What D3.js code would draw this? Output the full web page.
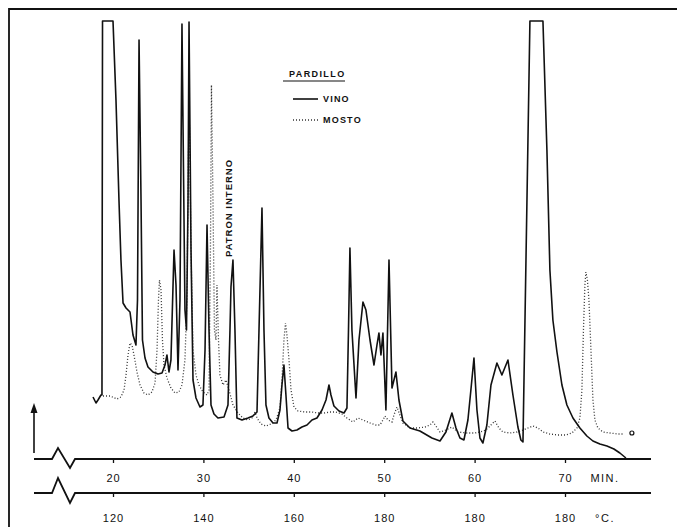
<!DOCTYPE html>
<html>
<head>
<meta charset="utf-8">
<script src="https://cdn.jsdelivr.net/npm/d3@7"></script>
<style>
  body { margin: 0; background: #fff; }
  text { font-family: "Liberation Sans", Arial, sans-serif; fill: #111; }
</style>
</head>
<body>
<script>
// chromatogram, Pardillo: vino vs mosto
var width = 677;
var height = 527;

// tick labels
var minuteTicks = [20, 30, 40, 50, 60, 70];
var tempLabels = ['120', '140', '160', '180', '180', '180'];

// VINO (solid) - time in min, response in chart units (106 = pen at top)
var vinoTime = [17.79, 18.12, 18.34, 18.67, 18.78, 18.84, 20.0, 20.33, 20.66, 20.88, 21.11, 21.44, 21.88, 22.21, 22.54, 22.71, 22.88, 23.10, 23.26, 23.54,
  23.87, 24.42, 24.98, 25.42, 25.75, 25.97, 26.19, 26.41, 26.75, 26.97, 27.19, 27.41, 27.63, 27.96, 28.13, 28.30, 28.41, 28.63, 28.85, 29.18,
  29.62, 29.95, 30.18, 30.40, 30.62, 30.84, 31.17, 31.61, 32.28, 32.72, 32.94, 33.05, 33.27, 33.49, 33.71, 34.27, 34.93, 35.48, 35.93, 36.15,
  36.48, 36.70, 36.92, 37.25, 37.70, 38.14, 38.47, 38.69, 38.91, 39.13, 39.36, 39.80, 40.35, 40.90, 41.46, 42.01, 42.56, 43.12, 43.56, 43.89,
  44.11, 44.44, 45.00, 45.55, 45.88, 46.05, 46.21, 46.43, 46.88, 47.21, 47.65, 47.98, 48.43, 48.87, 49.20, 49.42, 49.64, 49.86, 50.19, 50.53,
  50.86, 51.30, 51.63, 52.07, 52.85, 53.95, 55.28, 56.17, 56.83, 57.49, 57.94, 58.38, 58.82, 59.26, 59.59, 59.93, 60.26, 60.59, 60.92, 61.36,
  61.81, 62.47, 63.02, 63.69, 64.24, 64.79, 65.12, 65.35, 66.12, 67.56, 68.00, 68.33, 68.66, 69.11, 69.66, 70.21, 70.88, 71.65, 72.42, 73.09,
  73.86, 74.64, 75.41, 76.07, 76.74];
var vinoResp = [12, 10.5, 11.25, 12.5, 12.5, 106, 106, 86.25, 61.25, 46.25, 35.5, 34.25, 33.25, 27.5, 25, 36.25, 101.25, 61.25, 26.25, 21.75,
  19.5, 18.25, 17.75, 18, 20, 22.5, 18.25, 21.25, 48.75, 40, 18.75, 36.25, 105.25, 33.75, 28.75, 61.25, 105.75, 48.75, 16.25, 11.75,
  9.5, 10, 23.75, 55, 28.75, 10, 7.75, 6.75, 7, 10, 28.75, 39.5, 46.25, 28.75, 6.75, 6.25, 6.75, 7.25, 8.25, 28.75,
  59.25, 28.75, 10, 6.75, 5.5, 5.5, 8.75, 15, 20, 12.5, 4.25, 3.5, 3.75, 4.5, 5, 6.25, 6.75, 8.75, 11.25, 15,
  12.5, 9.75, 8.5, 8, 9.25, 28.75, 49.25, 28.75, 11.75, 26.25, 35.75, 33.75, 26.25, 20, 25, 28, 22.5, 28, 8.75, 46.25,
  14.25, 18.25, 11.25, 6, 4.25, 3.5, 1.75, 1, 3.25, 8, 4.25, 1.75, 1.25, 6.25, 13.75, 21.75, 8.75, 1.75, 0.5, 5,
  15, 20.5, 17.5, 21.25, 12.5, 4.5, 1.25, 0.75, 106, 106, 73.75, 43.75, 31.25, 23.25, 15, 10, 6.75, 4.25, 2.25, 1,
  0.25, -0.25, -1, -2, -3.25];

// MOSTO (dotted)
var mostoTime = [18.89, 19.67, 20.44, 20.88, 21.22, 21.44, 21.66, 21.88, 22.10, 22.32, 22.65, 22.99, 23.43, 23.87, 24.31, 24.65, 24.87, 25.03, 25.14, 25.31,
  25.47, 25.64, 25.97, 26.41, 26.86, 27.30, 27.63, 27.96, 28.18, 28.35, 28.46, 28.63, 28.85, 29.18, 29.51, 29.95, 30.40, 30.62, 30.78, 30.89,
  31.06, 31.22, 31.39, 31.50, 31.67, 31.83, 32.17, 32.50, 32.83, 33.27, 33.83, 34.38, 34.93, 35.37, 35.71, 35.93, 36.37, 36.92, 37.47, 38.03,
  38.47, 38.69, 38.91, 39.08, 39.24, 39.47, 39.69, 40.02, 40.46, 41.24, 42.01, 42.67, 43.34, 44.00, 44.66, 45.33, 45.88, 46.54, 47.10, 47.65,
  48.42, 49.09, 49.53, 49.86, 50.08, 50.42, 50.86, 51.08, 51.41, 51.74, 52.07, 52.85, 53.73, 54.51, 55.06, 55.39, 55.72, 56.17, 56.83, 57.49,
  58.16, 59.15, 60.04, 60.59, 61.25, 61.81, 62.25, 62.69, 63.13, 63.91, 64.68, 65.35, 65.90, 66.45, 67.01, 67.56, 68.33, 69.22, 70.10, 70.77,
  71.32, 71.65, 71.87, 72.04, 72.20, 72.31, 72.48, 72.65, 72.87, 73.09, 73.31, 73.64, 74.19, 74.97, 75.85, 76.51];
var mostoResp = [12.25, 12.25, 11.5, 12, 13.75, 17.5, 22.5, 25.5, 25, 22.5, 18.25, 15, 13, 12.5, 13.25, 15.5, 23.75, 36.25, 41.25, 38.75,
  26.25, 20, 16.75, 14.25, 13, 13.25, 15, 21.25, 36.25, 73.75, 80, 48.75, 23.75, 17.5, 15, 13.25, 12.5, 13.75, 48.75, 90,
  61.25, 28.75, 26.25, 40, 26.25, 17.5, 15, 16.25, 13.75, 10, 8, 6.75, 6.25, 6.75, 8.25, 6.75, 5.25, 4.75, 5.25, 6.25,
  9.25, 16.25, 26.25, 30.5, 27.5, 21.25, 13.75, 9.5, 8.5, 8.25, 8.25, 8, 8, 8.25, 8.25, 7.75, 6.75, 5.75, 6.75, 6.25,
  5.5, 5, 5, 6.25, 7.25, 6.25, 5.75, 7.5, 9.5, 7.5, 5.5, 4.25, 4.25, 4.5, 5, 5.75, 4.75, 3.25, 3.75, 4.5,
  3.25, 3, 3, 3.25, 3.75, 5, 6, 4.25, 3.25, 3, 3.25, 3.75, 4.25, 4.75, 4.25, 3.25, 2.75, 2.5, 2.5, 3,
  4.25, 6.75, 13.75, 28.75, 40, 43.25, 41.25, 36.25, 23.75, 11.25, 6.25, 4.25, 3.25, 3, 2.75, 2.75];
var endMark = [77.4, 3];

var svg = d3.select('body').append('svg')
  .attr('width', width)
  .attr('height', height);

svg.append('rect').attr('width', width).attr('height', height).attr('fill', '#fff');

var x = d3.scaleLinear().domain([20, 70]).range([113, 565]);
var y = d3.scaleLinear().domain([0, 106]).range([445, 21]);

// frame (top and left edge of the scan)
svg.append('path')
  .attr('d', 'M9,527 L9,9 L677,9')
  .attr('fill', 'none').attr('stroke', '#111').attr('stroke-width', 1.8);

var line = d3.line().x(function(d) { return x(d[0]); }).y(function(d) { return y(d[1]); });

var vino = d3.zip(vinoTime, vinoResp);
var mosto = d3.zip(mostoTime, mostoResp);

svg.append('path')
  .datum(mosto)
  .attr('d', line)
  .attr('fill', 'none')
  .attr('stroke', '#333')
  .attr('stroke-width', 1.3)
  .attr('stroke-dasharray', '1,2');

svg.append('path')
  .datum(vino)
  .attr('d', line)
  .attr('fill', 'none')
  .attr('stroke', '#111')
  .attr('stroke-width', 1.6)
  .attr('stroke-linejoin', 'round');

svg.append('circle')
  .attr('cx', x(endMark[0])).attr('cy', y(endMark[1])).attr('r', 2)
  .attr('fill', 'none').attr('stroke', '#111').attr('stroke-width', 1.2);

// two time / temperature axes with a break mark at the start
function drawAxis(yPos, labels, unit, pad, zig) {
  var g = svg.append('g').attr('transform', 'translate(0,' + yPos + ')');
  var ax = d3.axisBottom(x).tickValues(minuteTicks).tickSize(4).tickPadding(pad)
    .tickFormat(function(d, i) { return labels[i]; });
  g.call(ax);
  g.select('.domain').remove();
  g.selectAll('.tick line').attr('stroke', '#111').attr('stroke-width', 1.3);
  g.selectAll('.tick text').attr('font-size', 11).attr('letter-spacing', 1)
    .attr('font-family', '"Liberation Sans", Arial, sans-serif').attr('fill', '#111');
  g.append('path')
    .attr('d', 'M34,0 L52,0 L58,' + (-zig[0]) + ' L70,' + zig[1] + ' L75,0 L651,0')
    .attr('fill', 'none').attr('stroke', '#111').attr('stroke-width', 1.8);
  g.append('text').attr('x', 605).attr('y', pad + 12).attr('font-size', 11)
    .attr('letter-spacing', 1.5).text(unit);
}
drawAxis(459, minuteTicks.map(String), 'MIN.', 11, [11, 9]);
drawAxis(493, tempLabels, '°C.', 17, [15, 10]);

// response arrow
svg.append('line').attr('x1', 34).attr('y1', 453).attr('x2', 34).attr('y2', 410)
  .attr('stroke', '#111').attr('stroke-width', 1.6);
svg.append('path').attr('d', 'M34,403 L30.5,413 L37.5,413 Z').attr('fill', '#111');

// legend
var lg = svg.append('g');
lg.append('text').attr('x', 289).attr('y', 77).attr('font-size', 9).attr('font-weight', 'bold')
  .attr('letter-spacing', 1.4).text('PARDILLO');
lg.append('line').attr('x1', 283).attr('x2', 345).attr('y1', 81).attr('y2', 81)
  .attr('stroke', '#111').attr('stroke-width', 1.2);
lg.append('line').attr('x1', 293).attr('x2', 318).attr('y1', 99).attr('y2', 99)
  .attr('stroke', '#111').attr('stroke-width', 1.6);
lg.append('text').attr('x', 323).attr('y', 102).attr('font-size', 9).attr('font-weight', 'bold')
  .attr('letter-spacing', 1.2).text('VINO');
lg.append('line').attr('x1', 293).attr('x2', 318).attr('y1', 120).attr('y2', 120)
  .attr('stroke', '#333').attr('stroke-width', 1.3).attr('stroke-dasharray', '1,2');
lg.append('text').attr('x', 323).attr('y', 123).attr('font-size', 9).attr('font-weight', 'bold')
  .attr('letter-spacing', 1.2).text('MOSTO');

// internal standard label
svg.append('text')
  .attr('transform', 'translate(232,257) rotate(-90)')
  .attr('font-size', 9.5).attr('font-weight', 'bold').attr('letter-spacing', 1)
  .text('PATRON INTERNO');
</script>
</body>
</html>
